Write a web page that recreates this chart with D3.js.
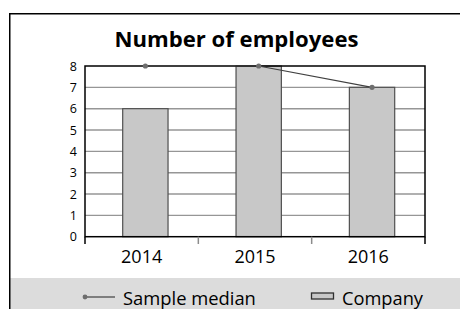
<!DOCTYPE html>
<html><head><meta charset="utf-8">
<script src="https://cdn.jsdelivr.net/npm/d3@7/dist/d3.min.js"></script>
<style>
html,body{margin:0;padding:0;background:#fff;overflow:hidden}
text{font-family:"Open Sans",sans-serif;fill:#000}
</style></head><body>
<svg id="c" width="460" height="309"></svg>
<script>
const categories = ["2014","2015","2016"];
const company = [6, 8, 7];
const sampleMedian = [8, 8, 7];
const yTicks = [0,1,2,3,4,5,6,7,8];
const title = "Number of employees";
const seriesNames = ["Sample median","Company"];

const svg = d3.select("#c");
const W = 460, H = 309;
const plot = {l:85, r:425, t:66, b:236.7};
const markShift = 3.7;

function fit(sel, target){
  const n = sel.node();
  const fs = parseFloat(sel.attr("font-size"));
  const w = n.getComputedTextLength();
  sel.attr("font-size", (fs*target/w).toFixed(2));
}

// chart frame
svg.append("rect").attr("x",0).attr("y",0).attr("width",W).attr("height",H).attr("fill","#fff");
svg.append("rect").attr("x",9.75).attr("y",278).attr("width",W).attr("height",40).attr("fill","#dcdcdc");
svg.append("path").attr("d",`M9.75,${H+5}V13.75H${W+5}`).attr("fill","none").attr("stroke","#000").attr("stroke-width",1.5);

// title
const t = svg.append("text").attr("x",236.5).attr("y",47.3).attr("text-anchor","middle")
  .attr("font-weight","bold").attr("font-size",20).text(title);
fit(t, 244);

const x = d3.scaleBand().domain(categories).range([plot.l, plot.r]).paddingInner(0).paddingOuter(0);
const y = d3.scaleLinear().domain([0, 8]).range([plot.b, plot.t]);

// gridlines
svg.append("g").selectAll("line").data(yTicks.filter(v=>v>0 && v<8)).join("line")
  .attr("x1",plot.l).attr("x2",plot.r).attr("y1",d=>y(d)).attr("y2",d=>y(d))
  .attr("stroke","#969696").attr("stroke-width",1.4);

// bars
const bw = x.bandwidth()*0.4;
svg.append("g").selectAll("rect").data(categories).join("rect")
  .attr("x",(d)=>x(d)+x.bandwidth()/2+markShift-bw/2)
  .attr("width",bw)
  .attr("y",(d,i)=>y(company[i]))
  .attr("height",(d,i)=>y(0)-y(company[i]))
  .attr("fill","#c8c8c8").attr("stroke","#505050").attr("stroke-width",1.2);

// plot border
svg.append("rect").attr("x",plot.l).attr("y",plot.t).attr("width",plot.r-plot.l).attr("height",plot.b-plot.t)
  .attr("fill","none").attr("stroke","#000").attr("stroke-width",1.5);

// x ticks
const xt = categories.map(c=>x(c)).concat([plot.r]);
svg.append("g").selectAll("line").data(xt).join("line")
  .attr("x1",d=>d).attr("x2",d=>d).attr("y1",plot.b).attr("y2",244)
  .attr("stroke",(d,i)=>(i===0||i===xt.length-1)?"#000":"#8c8c8c").attr("stroke-width",1.5);

// y axis labels
svg.append("g").selectAll("text").data(yTicks).join("text")
  .attr("x",77).attr("y",d=>y(d)).attr("dy","0.36em").attr("text-anchor","end")
  .attr("font-size",12.5).text(d=>d);

// x axis labels
svg.append("g").selectAll("text").data(categories).join("text")
  .attr("x",d=>x(d)+x.bandwidth()/2).attr("y",263).attr("text-anchor","middle")
  .attr("font-size",18).text(d=>d);

// median line
const pts = categories.map((c,i)=>[x(c)+x.bandwidth()/2+markShift, y(sampleMedian[i])]);
svg.append("path").attr("d",d3.line()(pts)).attr("fill","none").attr("stroke","#404040").attr("stroke-width",1.2);
svg.append("g").selectAll("circle").data(pts).join("circle")
  .attr("cx",d=>d[0]).attr("cy",d=>d[1]).attr("r",2.6).attr("fill","#6e6e6e");

// legend
const ly = 297;
svg.append("line").attr("x1",85).attr("x2",115).attr("y1",ly).attr("y2",ly).attr("stroke","#404040").attr("stroke-width",1.2);
svg.append("circle").attr("cx",85).attr("cy",ly).attr("r",2.4).attr("fill","#6e6e6e");
const l1 = svg.append("text").attr("x",123).attr("y",305).attr("font-size",17).text(seriesNames[0]);
fit(l1, 133);
svg.append("rect").attr("x",311.5).attr("y",293).attr("width",22).attr("height",6)
  .attr("fill","#c8c8c8").attr("stroke","#303030").attr("stroke-width",1.3);
const l2 = svg.append("text").attr("x",342).attr("y",305).attr("font-size",17).text(seriesNames[1]);
fit(l2, 81);
</script>
</body></html>
